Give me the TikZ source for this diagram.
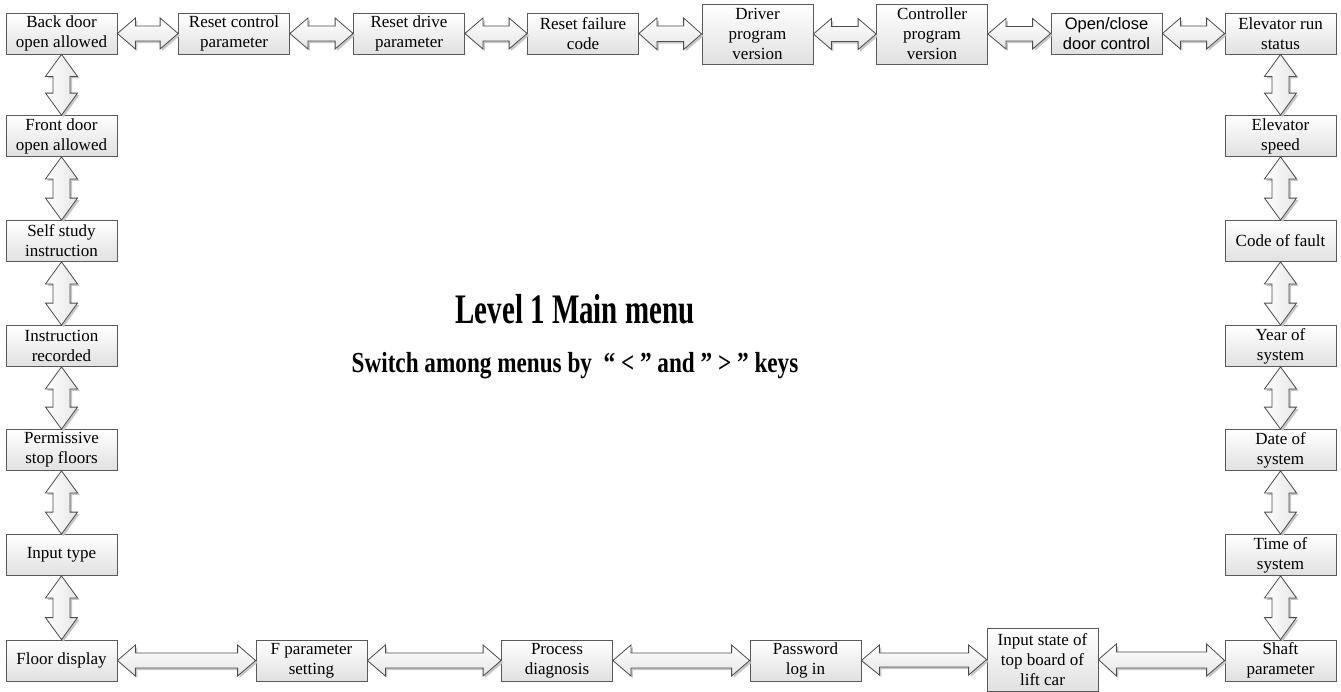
\documentclass[tikz,border=0pt]{standalone}
\usepackage{fontspec}
\setmainfont{Liberation Serif}
\newfontfamily\arialfont{Liberation Sans}
\usepackage{graphicx}
\usepackage{tikz}
\usetikzlibrary{calc,shadows}
\tikzstyle{menu}=[draw=black!65,line width=0.8pt,top color=white,bottom color=black!12,minimum width=111pt,minimum height=41pt,inner sep=1pt,align=center,font=\fontsize{17}{20}\selectfont]
\tikzstyle{tall}=[menu,minimum height=60pt]
\tikzstyle{harrow}=[draw=black!70,line width=0.8pt,top color=white,bottom color=black!10,
  drop shadow={shadow xshift=2pt,shadow yshift=-2pt,fill=black!22,opacity=1},
  to path={let \p1=(\tikztostart),\p2=(\tikztotarget),\n1={\x2-\x1-36pt} in
    -- ++(18pt,15.5pt) -- ++(0,-8pt) -- ++(\n1,0) -- ++(0,8pt) -- (\tikztotarget)
    -- ++(-18pt,-15.5pt) -- ++(0,8pt) -- ++(-\n1,0) -- ++(0,-8pt) -- cycle}]
\tikzstyle{varrow}=[draw=black!70,line width=0.8pt,left color=white,right color=black!10,
  drop shadow={shadow xshift=2pt,shadow yshift=-2pt,fill=black!22,opacity=1},
  to path={let \p1=(\tikztostart),\p2=(\tikztotarget),\n1={\y1-(\y2)-44pt} in
    -- ++(-16pt,-22pt) -- ++(7.5pt,0) -- ++(0,-\n1) -- ++(-7.5pt,0) -- (\tikztotarget)
    -- ++(16pt,22pt) -- ++(-7.5pt,0) -- ++(0,\n1) -- ++(7.5pt,0) -- cycle}]

\begin{document}
\begin{tikzpicture}[x=1pt,y=-1pt]
        \tikzset{heading/.style = {anchor=base,font=\bfseries}}
        \useasboundingbox (0,0) rectangle (1341,691);
        % top row
        \node[menu] (bd) at (61.5,33.5) {Back door\\open allowed};
        \node[menu] (rc) at (234,33.5) {Reset control\\parameter};
        \node[menu] (rd) at (409,33.5) {Reset drive\\parameter};
        \node[menu] (rf) at (583,33.5) {Reset failure\\code};
        \node[tall] (dv) at (757.5,34) {Driver\\program\\version};
        \node[tall] (cv) at (932,34) {Controller\\program\\version};
        \node[menu,font=\arialfont\fontsize{16.5}{20}\selectfont] (dc) at (1106.5,33.5) {Open/close\\door control};
        \node[menu] (rs) at (1280.5,33.5) {Elevator run\\status};
        % right column
        \node[menu] (es) at (1280.5,136) {Elevator\\speed};
        \node[menu] (cf) at (1280.5,241) {Code of fault};
        \node[menu] (ys) at (1280.5,346) {Year of\\system};
        \node[menu] (ds) at (1280.5,450) {Date of\\system};
        \node[menu] (ts) at (1280.5,555) {Time of\\system};
        \node[menu] (sp) at (1280.5,660.5) {Shaft\\parameter};
        % left column
        \node[menu] (fd) at (61.5,136) {Front door\\open allowed};
        \node[menu] (ss) at (61.5,241) {Self study\\instruction};
        \node[menu] (ir) at (61.5,346) {Instruction\\recorded};
        \node[menu] (ps) at (61.5,450) {Permissive\\stop floors};
        \node[menu] (it) at (61.5,555) {Input type};
        \node[menu] (fl) at (61.5,660.5) {Floor display};
        % bottom row
        \node[menu] (fp) at (311.5,660.5) {F parameter\\setting};
        \node[menu] (pd) at (557,660.5) {Process\\diagnosis};
        \node[menu] (pl) at (805.5,660.5) {Password\\log in};
        \node[menu,minimum height=63pt] (is) at (1042.5,659.5) {Input state of\\top board of\\lift car};
        % title
        \node[heading] (title) at (575,323) {\scalebox{0.69}[1]{\fontsize{42}{46}\selectfont Level 1 Main menu}};
        \node[heading] (keys) at (575,372) {\scalebox{0.8}[1]{\fontsize{29}{32}\selectfont Switch among menus by\ \ “ < ” and ” > ” keys}};
        % arrows
        \draw[harrow] (bd.east) to (rc.west);
        \draw[harrow] (rc.east) to (rd.west);
        \draw[harrow] (rd.east) to (rf.west);
        \draw[harrow] (rf.east) to (dv.west);
        \draw[harrow] (dv.east) to (cv.west);
        \draw[harrow] (cv.east) to (dc.west);
        \draw[harrow] (dc.east) to (rs.west);
        \draw[varrow] (rs.south) to (es.north);
        \draw[varrow] (es.south) to (cf.north);
        \draw[varrow] (cf.south) to (ys.north);
        \draw[varrow] (ys.south) to (ds.north);
        \draw[varrow] (ds.south) to (ts.north);
        \draw[varrow] (ts.south) to (sp.north);
        \draw[varrow] (bd.south) to (fd.north);
        \draw[varrow] (fd.south) to (ss.north);
        \draw[varrow] (ss.south) to (ir.north);
        \draw[varrow] (ir.south) to (ps.north);
        \draw[varrow] (ps.south) to (it.north);
        \draw[varrow] (it.south) to (fl.north);
        \draw[harrow] (fl.east) to (fp.west);
        \draw[harrow] (fp.east) to (pd.west);
        \draw[harrow] (pd.east) to (pl.west);
        \draw[harrow] (pl.east) to (is.west);
        \draw[harrow] (is.east) to (sp.west);
      \end{tikzpicture}
\end{document}
